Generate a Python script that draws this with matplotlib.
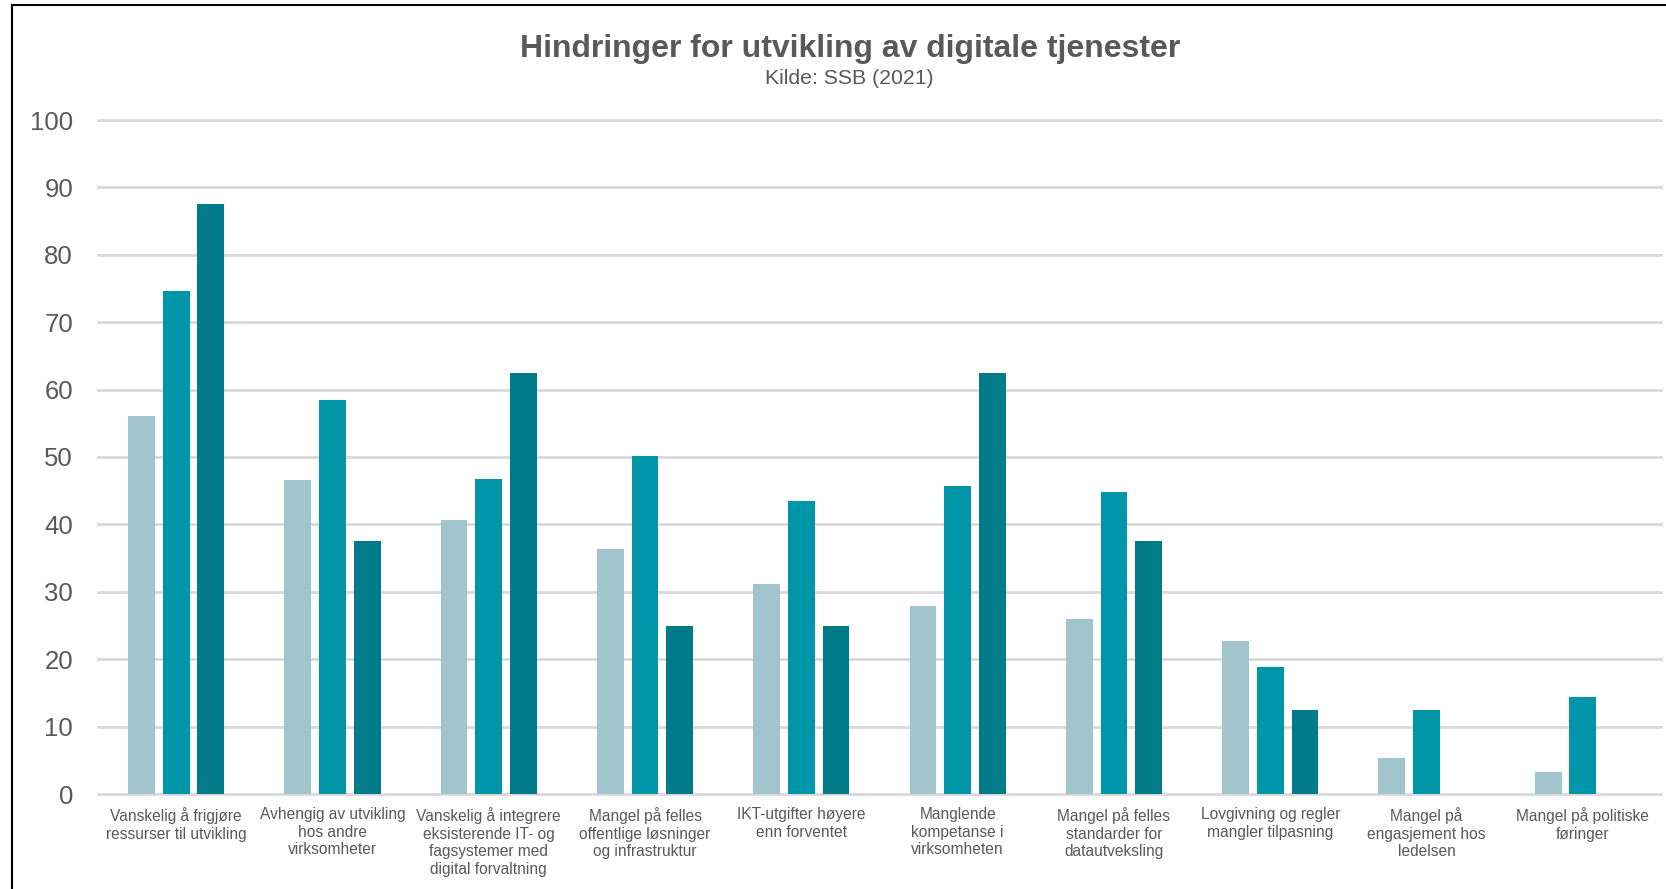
import numpy as np
import matplotlib.pyplot as plt
from matplotlib.lines import Line2D

plt.rcParams['font.family'] = ['Liberation Sans', 'DejaVu Sans']

categories = [
    "Vanskelig å frigjøre\nressurser til utvikling",
    "Avhengig av utvikling\nhos andre\nvirksomheter",
    "Vanskelig å integrere\neksisterende IT- og\nfagsystemer med\ndigital forvaltning",
    "Mangel på felles\noffentlige løsninger\nog infrastruktur",
    "IKT-utgifter høyere\nenn forventet",
    "Manglende\nkompetanse i\nvirksomheten",
    "Mangel på felles\nstandarder for\ndatautveksling",
    "Lovgivning og regler\nmangler tilpasning",
    "Mangel på\nengasjement hos\nledelsen",
    "Mangel på politiske\nføringer",
]
series_light = [56.1, 46.6, 40.6, 36.4, 31.1, 27.9, 26.0, 22.7, 5.4, 3.2]
series_mid = [74.7, 58.4, 46.8, 50.2, 43.4, 45.7, 44.8, 18.9, 12.5, 14.4]
series_dark = [87.5, 37.5, 62.5, 25.0, 25.0, 62.5, 37.5, 12.5, 0.0, 0.0]

colors = ["#A1C4CD", "#0096AA", "#007B8A"]
text_color = "#595959"

fig = plt.figure(figsize=(16.66, 8.89), dpi=100)
ax = fig.add_axes([98 / 1666, 1 - 794 / 889, (1661 - 98) / 1666, (794 - 120) / 889])

x = np.arange(len(categories))
width = 0.172
step = 0.222
for i, (vals, col) in enumerate(zip([series_light, series_mid, series_dark], colors)):
    ax.bar(x + (i - 1) * step, vals, width=width, color=col, zorder=3)

ax.set_xlim(-0.5, len(categories) - 0.5)
ax.set_ylim(0, 100)
ax.set_yticks(range(0, 101, 10))
ax.yaxis.grid(True, color="#D9D9D9", linewidth=2, zorder=0)
for line in ax.get_ygridlines():
    line.set_clip_on(False)
for s in ax.spines.values():
    s.set_visible(False)
ax.tick_params(axis="y", length=0, pad=18, labelsize=18.5, labelcolor=text_color)
ax.set_xticks(x)
ax.set_xticklabels(categories, fontsize=11.2, color=text_color, linespacing=1.22)
ax.tick_params(axis="x", length=0, pad=9.5)

fig.text(0.51, 1 - 49 / 889, "Hindringer for utvikling av digitale tjenester",
         ha="center", va="center", fontsize=23, fontweight="bold", color=text_color)
fig.text(0.51, 1 - 78 / 889, "Kilde: SSB (2021)",
         ha="center", va="center", fontsize=15.3, color=text_color)

# frame of the original chart box (top and left edges)
fig.add_artist(Line2D([12 / 1666, 1.0], [1 - 5 / 889, 1 - 5 / 889], color="black", linewidth=1.5))
fig.add_artist(Line2D([12 / 1666, 12 / 1666], [0.0, 1 - 5 / 889], color="black", linewidth=1.5))

fig.savefig("out.png", dpi=100)
